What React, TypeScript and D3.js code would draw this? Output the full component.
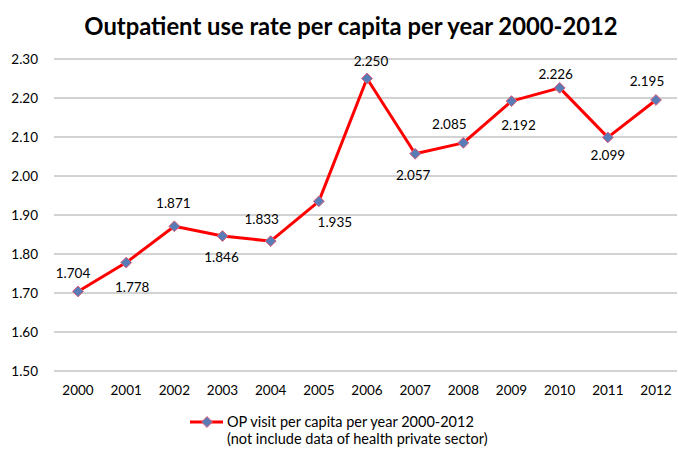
import React from "react";
import * as d3 from "d3";

const years = ["2000","2001","2002","2003","2004","2005","2006","2007","2008","2009","2010","2011","2012"];
const values = [1.704,1.778,1.871,1.846,1.833,1.935,2.25,2.057,2.085,2.192,2.226,2.099,2.195];
const yTicks = [1.5,1.6,1.7,1.8,1.9,2.0,2.1,2.2,2.3];
const title = "Outpatient use rate per capita per year 2000-2012";
const legendLines = ["OP visit per capita per year 2000-2012", "(not include data of health private sector)"];

// data-label placement (layout only): [dx, dy] of label centre relative to its point
const labelOffsets: [number, number][] = [
  [-5, -18], [6, 24], [-1, -23], [-1, 21], [-9, -22], [16, 21], [4, -18],
  [-2, 21], [-14, -19], [7, 24], [-4, -14], [0, 18], [-9, -19],
];

const W = 678, H = 449;
const FONT = "Lato, 'Open Sans', sans-serif";

export default function App() {
  const x = d3.scalePoint<string>().domain(years).range([78, 656]);
  const y = d3.scaleLinear().domain([1.5, 2.3]).range([371, 59]);
  const line = d3.line<number>().x((_, i) => x(years[i])!).y(d => y(d));
  const diamond = d3.symbol().type(d3.symbolDiamond2).size(75)();
  return (
    <svg width={W} height={H} style={{ position: "absolute", left: 0, top: 0, background: "#fff" }} fontFamily={FONT}>
      <text x={351} y={35} textAnchor="middle" fontSize={23.8} fontWeight="bold" fill="#000">{title}</text>
      {yTicks.map(t => (
        <g key={t}>
          <line x1={54} x2={677} y1={y(t)} y2={y(t)} stroke="#a6a6a6" strokeWidth={1} />
          <text x={38} y={y(t) + 5} textAnchor="end" fontSize={13.5} fill="#000">{t.toFixed(2)}</text>
        </g>
      ))}
      {years.map(yr => (
        <text key={yr} x={x(yr)!} y={395} textAnchor="middle" fontSize={13.5} fill="#000">{yr}</text>
      ))}
      <path d={line(values)!} fill="none" stroke="#ff0000" strokeWidth={3} strokeLinejoin="round" />
      {values.map((v, i) => (
        <path key={i} d={diamond} transform={`translate(${x(years[i])},${y(v)})`} fill="#5a7cb6" stroke="#e0607a" strokeWidth={1} />
      ))}
      {values.map((v, i) => (
        <text key={"l" + i} x={x(years[i])! + labelOffsets[i][0]} y={y(v) + labelOffsets[i][1] + 5} textAnchor="middle" fontSize={13.5} fill="#000">{v.toFixed(3)}</text>
      ))}
      <line x1={190} x2={223} y1={422} y2={422} stroke="#ff0000" strokeWidth={3} />
      <path d={diamond} transform="translate(207,422)" fill="#5a7cb6" stroke="#e0607a" strokeWidth={1} />
      <text x={227} y={427} fontSize={14.5} fill="#000">{legendLines[0]}</text>
      <text x={227} y={444} fontSize={14.5} fill="#000">{legendLines[1]}</text>
    </svg>
  );
}
